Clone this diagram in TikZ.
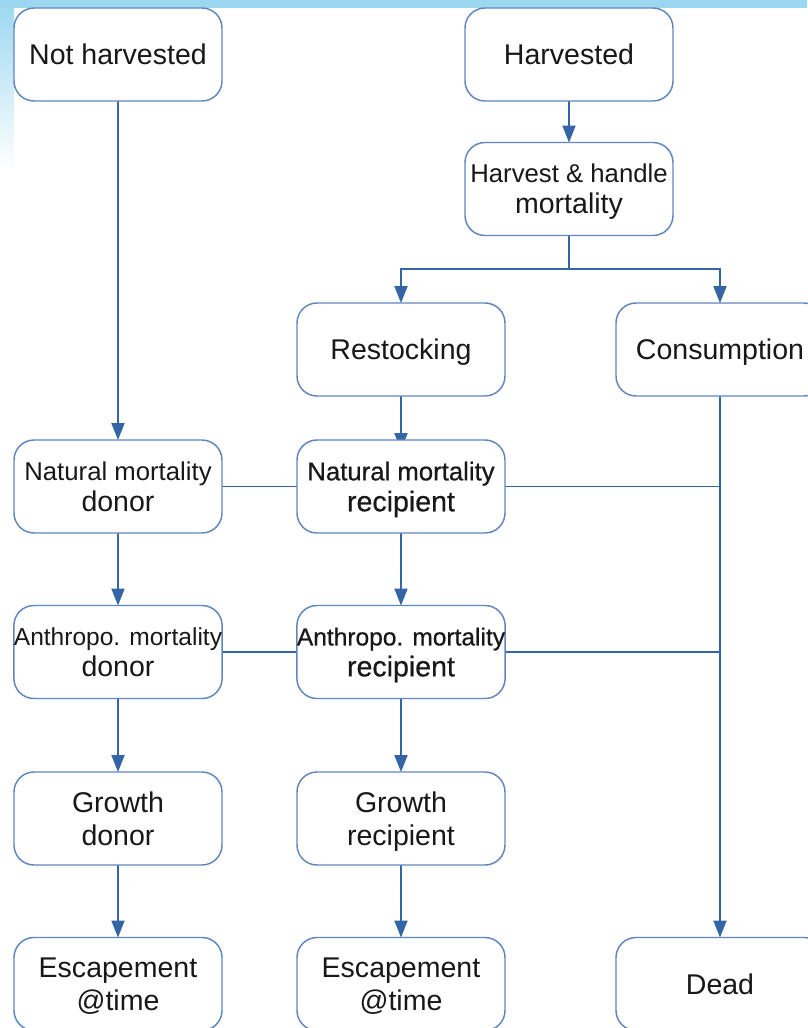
\documentclass[tikz,border=0pt]{standalone}
\usepackage{fontspec}
\setmainfont{Liberation Sans}
\newfontfamily\heavy[FakeBold=0.6]{Liberation Sans}
\usetikzlibrary{arrows.meta,backgrounds}
\definecolor{lineblue}{RGB}{52,101,164}
\definecolor{edgeblue}{RGB}{96,134,192}
\definecolor{inkgray}{RGB}{24,24,24}
\definecolor{skyblue}{RGB}{155,215,240}
\newcommand{\txtS}[1]{{\fontsize{19.3pt}{23pt}\selectfont #1}}
\newcommand{\txtX}[1]{{\fontsize{18.4pt}{23pt}\selectfont #1}}
% last line without descender depth, so every two-line label sits alike
\newcommand{\nodepth}[1]{\raisebox{0pt}[\height][0pt]{#1}}
\tikzset{
  box/.style={draw=edgeblue, line width=1.1pt, fill=white, rounded corners=15pt,
    minimum width=156pt, minimum height=69.75pt, inner sep=0pt, outer sep=0pt,
    align=center, text=inkgray, font=\fontsize{21.4pt}{24.5pt}\selectfont},
  oneline/.style={text height=15.3pt, text depth=0pt},
  link/.style={draw=lineblue, line width=1.4pt},
  arr/.style={link, -{Triangle[length=12.75pt,width=9.75pt]}},
}
\begin{document}
\begin{tikzpicture}[x=0.75pt,y=-0.75pt]
\useasboundingbox (0,0) rectangle (807,1028);

% left column: not harvested
\node[box, oneline] (nh)  at (118,54.5)  {Not harvested};
\node[box] (nmd) at (118,486.5) {\txtS{Natural mortality}\\[-1.3pt]donor};
\node[box] (amd) at (118,652)   {\txtX{Anthropo. mortality}\\[-1.3pt]donor};
\node[box] (gd)  at (118,818.5) {Growth\\donor};
\node[box] (ed)  at (118,984)   {Escapement\\\nodepth{@time}};

% harvested branch
\node[box, oneline] (hv)  at (569,54.5)  {Harvested};
\node[box] (hh)  at (569,189)   {\txtS{Harvest \& handle}\\[-1.3pt]\nodepth{mortality}};
\node[box, oneline] (rs)  at (401,349.5) {Restocking};
\node[box, oneline] (cs)  at (720,349.5) {Consumption};

% recipient column
\node[box] (nmr) at (401,486.5) {\heavy\txtS{Natural mortality}\\[-1.3pt]\heavy\nodepth{recipient}};
\node[box] (amr) at (401,652)   {\heavy\txtX{Anthropo. mortality}\\[-1.3pt]\heavy\nodepth{recipient}};
\node[box] (gr)  at (401,818.5) {Growth\\\nodepth{recipient}};
\node[box] (er)  at (401,984)   {Escapement\\\nodepth{@time}};
\node[box, oneline] (dead) at (720,984)  {Dead};

% junctions on the mortality sink line
\coordinate (split) at (569,269);
\coordinate (j1) at (720,486.5);
\coordinate (j2) at (720,652);

\begin{scope}[on background layer]
  % page backdrop
  \fill[white] (0,0) rectangle (807,1028);
  \shade[top color=skyblue, bottom color=white] (0,0) rectangle (14,170);
  \fill[skyblue] (0,0) rectangle (807,8);
  % connectors
  \draw[arr] (nh) -- (nmd);
  \draw[arr] (hv) -- (hh);
  \draw[link] (hh) -- (split);
  \draw[arr] (split) -| (rs.north);
  \draw[arr] (split) -| (cs.north);
  \draw[arr, shorten >=-7.5pt] (rs) -- (nmr);
  \draw[arr] (cs) -- (dead);
  \draw[link] (nmd) -- (nmr);
  \draw[link] (nmr) -- (j1);
  \draw[link] (amd) -- (amr);
  \draw[link] (amr) -- (j2);
  \draw[arr] (nmd) -- (amd);
  \draw[arr] (amd) -- (gd);
  \draw[arr] (gd) -- (ed);
  \draw[arr] (nmr) -- (amr);
  \draw[arr] (amr) -- (gr);
  \draw[arr] (gr) -- (er);
\end{scope}
\end{tikzpicture}
\end{document}
